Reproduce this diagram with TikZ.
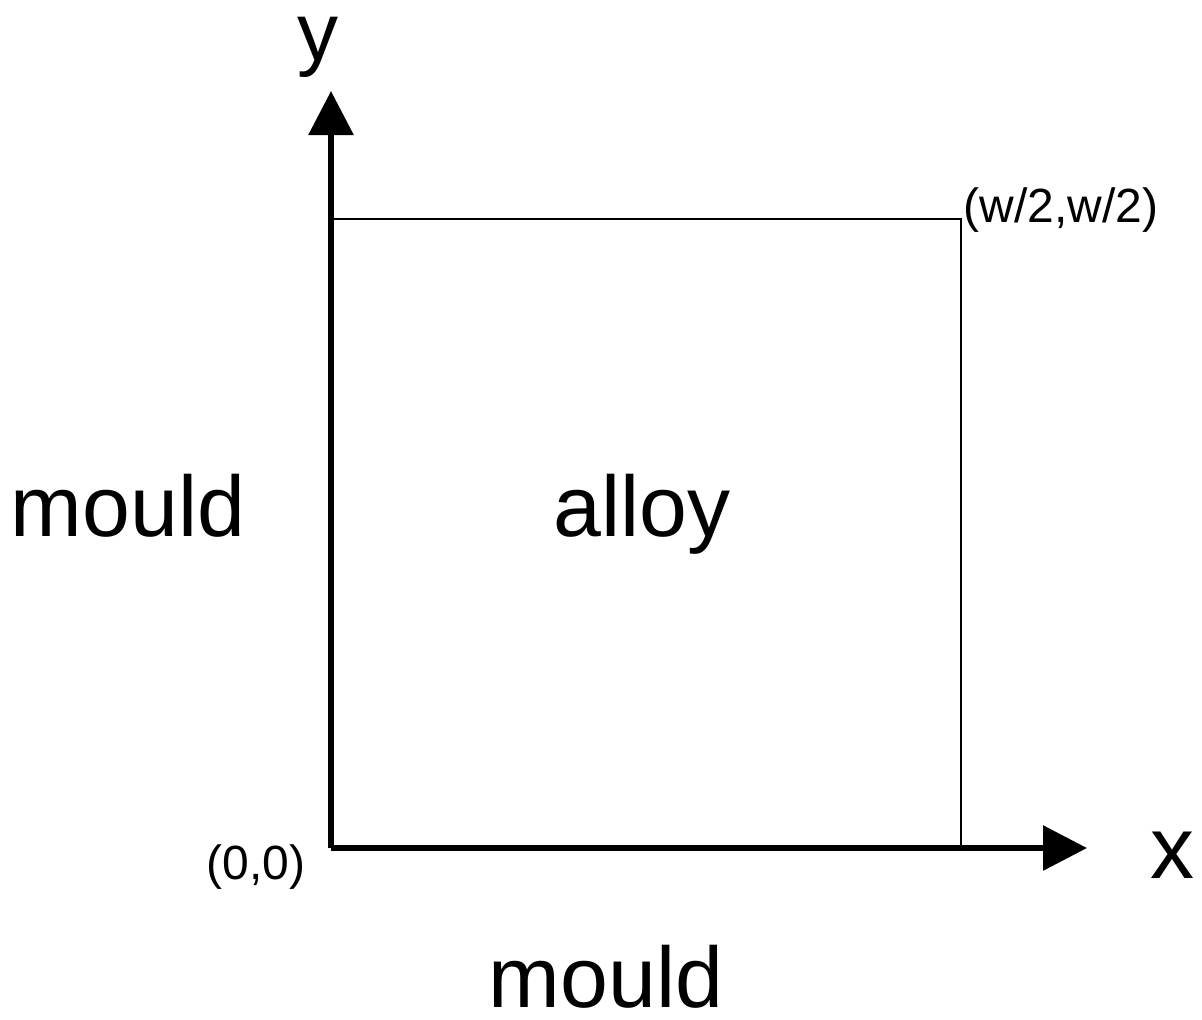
\documentclass[tikz,border=0pt]{standalone}
\usepackage{fontspec}
\setmainfont{Liberation Sans}
\usetikzlibrary{arrows.meta}

\begin{document}
\begin{tikzpicture}[x=0.5pt, y=-0.5pt, axis/.style={-{Triangle[length=22pt,width=22pt]}, line width=3pt, draw=black}]

% styles
\tikzset{
  big/.style={font=\fontsize{43}{50}\selectfont, inner sep=0pt, anchor=base},
  axislabel/.style={font=\fontsize{44}{50}\selectfont, inner sep=0pt},
  corner/.style={font=\fontsize{24}{28}\selectfont, inner sep=0pt},
  box/.style={line width=0.75pt, draw=black}
}

% fixed page size
\useasboundingbox (0,0) rectangle (1202,1019);

% axis points
\coordinate (O) at (331,848);
\coordinate (X) at (1087,848);
\coordinate (Y) at (331,91);
\coordinate (C) at (961,219);

% alloy square
\draw[box] (O |- C) -- (C) -- (C |- O);

% axes
\draw[axis] (O) -- (Y);
\draw[axis] (O) -- (X);

% labels
\node[axislabel, font=\fontsize{41}{48}\selectfont] (ly) at (318,47) {y};
\node[axislabel] (lx) at (1172,855) {x};
\node[corner] (lc) at (1061,210) {(w/2,w/2)};
\node[corner] (lo) at (256,867) {(0,0)};
\node[big] (ml) at (128,536) {mould};
\node[big] (al) at (642,536) {alloy};
\node[big] (mb) at (606,1007) {mould};

\end{tikzpicture}
\end{document}
